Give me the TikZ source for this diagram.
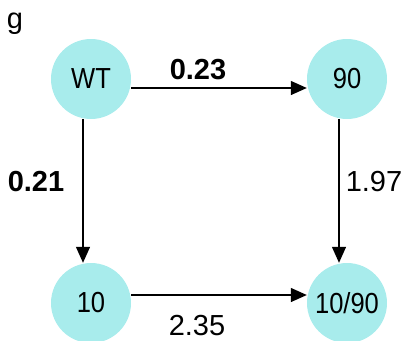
\documentclass[tikz,border=0pt]{standalone}
\usepackage{fontspec}
\setmainfont{Liberation Sans}
\newfontfamily\narrowfont[FakeStretch=0.88]{Liberation Sans}
\usetikzlibrary{arrows.meta}
\definecolor{nodecyan}{HTML}{A8ECEC}
\begin{document}
\begin{tikzpicture}[x=1pt,y=-1pt,
  st/.style={circle,fill=nodecyan,draw=none,minimum size=80pt,inner sep=0pt,font=\narrowfont\fontsize{29}{32}\selectfont},
  lbl/.style={font=\fontsize{29}{32}\selectfont,inner sep=0pt},
  blbl/.style={font=\fontsize{29}{32}\selectfont\bfseries,inner sep=0pt},
  arr/.style={line width=1.3pt,-{Triangle[length=16pt,width=14pt]}}]
\useasboundingbox (0,0) rectangle (406,340);
\node[font=\fontsize{29}{32}\selectfont,inner sep=0pt] (g) at (15,24) {g};
\node[st] (WT) at (91,79) {WT};
\node[st] (N90) at (347,79) {90};
\node[st] (N10) at (91,303) {10};
\node[st] (N1090) at (347,303) {10/90};
\draw[arr] ([yshift=-9pt]WT.east) -- ([yshift=-9pt]N90.west);
\draw[arr] ([xshift=-8pt]WT.south) -- ([xshift=-8pt]N10.north);
\draw[arr] ([xshift=-8pt]N90.south) -- ([xshift=-8pt]N1090.north);
\draw[arr] ([yshift=8pt]N10.east) -- ([yshift=8pt]N1090.west);
\node[blbl] (l023) at (198,70) {0.23};
\node[blbl] (l021) at (36,182) {0.21};
\node[lbl] (l197) at (374,182) {1.97};
\node[lbl] (l235) at (197,326) {2.35};
\end{tikzpicture}
\end{document}
